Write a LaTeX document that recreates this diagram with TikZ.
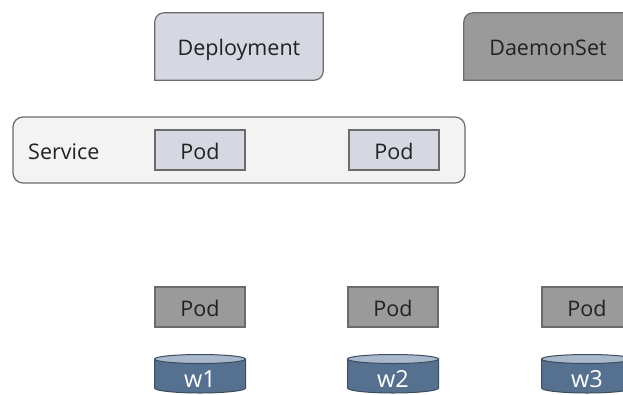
\documentclass[tikz,border=0pt]{standalone}
\usepackage{fontspec}
\setmainfont{Open Sans}
\usetikzlibrary{backgrounds}
\definecolor{lineg}{HTML}{6B6B6B}
\definecolor{lightblue}{HTML}{D5D8E1}
\definecolor{midgray}{HTML}{9A9A9A}
\definecolor{svcfill}{HTML}{F3F3F3}
\definecolor{cylbody}{HTML}{56718F}
\definecolor{cyltop}{HTML}{A9B8CA}
\definecolor{cylline}{HTML}{3C4C5E}
\definecolor{ink}{HTML}{222222}
\begin{document}
\begin{tikzpicture}[x=1pt,y=-1pt,
  font=\fontsize{21.5}{25}\selectfont,
  box/.style={draw=lineg, line width=1.2pt, inner sep=0pt, text=ink,
    text height=18.4pt, text depth=0pt},
  podlight/.style={box, fill=lightblue, minimum width=90pt, minimum height=40pt},
  poddark/.style={box, fill=midgray, minimum width=90pt, minimum height=40pt},
  ctrl/.style={inner sep=0pt, minimum width=168pt, minimum height=67pt, text=ink,
    text height=17.4pt, text depth=0pt},
  diag/.style={draw=lineg, line width=1.2pt},
  cyl/.style={text=white, inner sep=0pt, font=\fontsize{23.5}{27}\selectfont}
]
\useasboundingbox (0,0) rectangle (623,394);

% controllers with diagonal rounded corners
\node[ctrl] (dep) at (239,46.5) {Deployment};
\node[ctrl] (ds) at (548,46.5) {DaemonSet};
\begin{scope}[on background layer]
  \path[diag, fill=lightblue] (dep.south west) [rounded corners=9pt] -- (dep.north west)
    [sharp corners] -- (dep.north east) [rounded corners=9pt] -- (dep.south east)
    [sharp corners] -- cycle;
  \path[diag, fill=midgray] (ds.south west) [rounded corners=9pt] -- (ds.north west)
    [sharp corners] -- (ds.north east) [rounded corners=9pt] -- (ds.south east)
    [sharp corners] -- cycle;
\end{scope}

% service grouping two pods
\node[draw=lineg, line width=1.2pt, fill=svcfill, rounded corners=10pt,
  minimum width=452pt, minimum height=66pt] (svc) at (239,150) {};
\node[anchor=base west, text=ink, inner sep=0pt] (svclabel) at (28,159) {Service};
\node[podlight] (p1) at (200,150) {Pod};
\node[podlight] (p2) at (394,150) {Pod};

% daemon pods on each node
\node[poddark] (d1) at (200,307) {Pod};
\node[poddark] (d2) at (393,307) {Pod};
\node[poddark] (d3) at (587,307) {Pod};

% worker volumes
\foreach \cx/\lab in {200/w1, 393/w2, 587/w3}{
  \path[draw=cylline, line width=1pt, fill=cylbody]
    (\cx-45.5,359) -- (\cx-45.5,388) arc[start angle=180, end angle=0, x radius=45.5, y radius=5]
    -- (\cx+45.5,359) -- cycle;
  \path[draw=cylline, line width=1pt, fill=cyltop]
    (\cx,359) ellipse[x radius=45.5, y radius=4.5];
  \node[cyl, anchor=base] (v\lab) at (\cx,387) {\lab};
}
\end{tikzpicture}
\end{document}
